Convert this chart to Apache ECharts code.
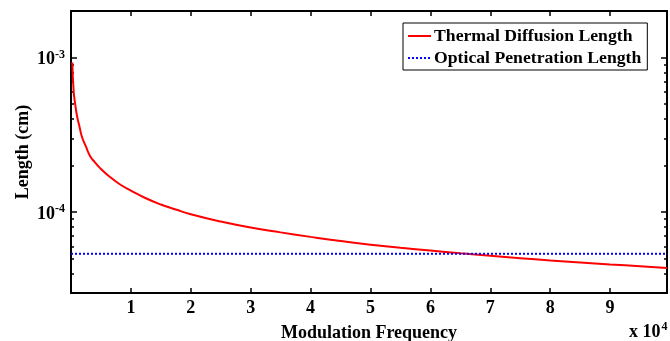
<!DOCTYPE html>
<html>
<head>
<meta charset="utf-8">
<script src="https://cdn.jsdelivr.net/npm/echarts@6/dist/echarts.min.js"></script>
<style>
  html, body { margin: 0; padding: 0; background: #fff; }
  #chart { width: 670px; height: 341px; }
</style>
</head>
<body>
<div id="chart"></div>
<script>
// modulation frequency (Hz)
const freq = [220, 450, 700, 1000, 1400, 1850, 2500, 3200, 4000, 4900, 6500, 8200, 10000,
  12500, 15000, 17500, 20000, 25000, 30000, 35000, 40000, 45000, 50000, 55000, 60000,
  65000, 70000, 75000, 80000, 85000, 90000, 95000, 99500];
// thermal diffusion length (cm)
const thermal = [9.3e-4, 6.0e-4, 5.0e-4, 4.2e-4, 3.6e-4, 3.05e-4, 2.65e-4, 2.3e-4, 2.1e-4, 1.92e-4,
  1.69e-4, 1.51e-4, 1.38e-4, 1.23e-4, 1.12e-4, 1.04e-4, 9.7e-5, 8.7e-5, 7.95e-5, 7.4e-5,
  6.92e-5, 6.5e-5, 6.15e-5, 5.88e-5, 5.64e-5, 5.42e-5, 5.22e-5, 5.04e-5, 4.87e-5, 4.73e-5,
  4.59e-5, 4.47e-5, 4.36e-5];
// optical penetration length (cm), constant
const opticalFreq = [0, 99500];
const optical = [5.38e-5, 5.38e-5];

const xTicks = [10000, 20000, 30000, 40000, 50000, 60000, 70000, 80000, 90000];
const yMajor = [1e-4, 1e-3];
const yMinor = [3e-5, 4e-5, 5e-5, 6e-5, 7e-5, 8e-5, 9e-5, 2e-4, 3e-4, 4e-4, 5e-4, 6e-4, 7e-4, 8e-4, 9e-4, 2e-3];

const FONT = '"Liberation Serif", "Times New Roman", serif';
const black = '#000';

const chart = echarts.init(document.getElementById('chart'));

const supLabel = (v) => {
  const e = Math.round(Math.log10(v));
  return '{b|10}{s|' + e + '}';
};

const yBase = (pos, opts) => Object.assign({
  type: 'log',
  logBase: 10,
  min: 3e-5,
  max: 2e-3,
  position: pos,
  axisLine: { show: false },
  splitLine: { show: false },
  axisLabel: { show: false },
  axisTick: { show: false },
}, opts);

const option = {
  backgroundColor: '#fff',
  animation: false,
  grid: { left: 71, right: 3, top: 11, bottom: 48, outerBoundsMode: 'none', containLabel: false },
  legend: {
    data: ['Thermal Diffusion Length', 'Optical Penetration Length'],
    orient: 'vertical',
    left: 403,
    top: 23,
    padding: [4, 6, 3, 4],
    itemWidth: 23,
    itemHeight: 10,
    itemGap: 4,
    itemStyle: { opacity: 0 },
    backgroundColor: '#fff',
    borderColor: black,
    borderWidth: 1,
    textStyle: { fontFamily: FONT, fontWeight: 'bold', fontSize: 17.7, color: black, lineHeight: 18, padding: [0, 0, 0, -2] },
  },
  xAxis: [
    {
      type: 'value',
      min: 0,
      max: 99500,
      interval: 10000,
      position: 'bottom',
      name: 'Modulation Frequency',
      nameLocation: 'middle',
      nameGap: 31,
      nameTextStyle: { fontFamily: FONT, fontWeight: 'bold', fontSize: 18, color: black },
      axisLine: { lineStyle: { color: black, width: 2 } },
      axisTick: { inside: true, length: 5, customValues: xTicks, lineStyle: { color: black, width: 1.5 } },
      axisLabel: {
        customValues: xTicks,
        margin: 6,
        fontFamily: FONT, fontWeight: 'bold', fontSize: 18, color: black,
        formatter: (v) => String(Math.round(v / 10000)),
      },
      splitLine: { show: false },
    },
    {
      type: 'value',
      min: 0,
      max: 99500,
      interval: 10000,
      position: 'top',
      axisLine: { lineStyle: { color: black, width: 2 } },
      axisTick: { inside: true, length: 5, customValues: xTicks, lineStyle: { color: black, width: 1.5 } },
      axisLabel: { show: false },
      splitLine: { show: false },
    },
  ],
  yAxis: [
    yBase('left', {
      name: 'Length (cm)',
      nameLocation: 'middle',
      nameGap: 39,
      nameMoveOverlap: false,
      nameTextStyle: { fontFamily: FONT, fontWeight: 'bold', fontSize: 18, color: black },
      axisLine: { show: true, lineStyle: { color: black, width: 2 } },
      axisTick: { show: true, inside: true, length: 6, customValues: yMajor, lineStyle: { color: black, width: 1.5 } },
      axisLabel: {
        show: true,
        customValues: yMajor,
        margin: 6,
        formatter: supLabel,
        rich: {
          b: { fontFamily: FONT, fontWeight: 'bold', fontSize: 18, color: black, lineHeight: 18, padding: [4, 0, 0, 0] },
          s: { fontFamily: FONT, fontWeight: 'bold', fontSize: 12, color: black, lineHeight: 12, verticalAlign: 'top' },
        },
      },
    }),
    yBase('left', {
      axisTick: { show: true, inside: true, length: 3, customValues: yMinor, lineStyle: { color: black, width: 1.5 } },
    }),
    yBase('right', {
      axisLine: { show: true, lineStyle: { color: black, width: 2 } },
      axisTick: { show: true, inside: true, length: 6, customValues: yMajor, lineStyle: { color: black, width: 1.5 } },
    }),
    yBase('right', {
      axisTick: { show: true, inside: true, length: 3, customValues: yMinor, lineStyle: { color: black, width: 1.5 } },
    }),
  ],
  graphic: [
    {
      type: 'text',
      left: 629,
      top: 319,
      style: {
        text: '{b|x 10}{s|4}',
        rich: {
          b: { fontFamily: FONT, fontWeight: 'bold', fontSize: 18, fill: black, lineHeight: 18, padding: [4, 0, 0, 0] },
          s: { fontFamily: FONT, fontWeight: 'bold', fontSize: 12, fill: black, lineHeight: 12, verticalAlign: 'top', padding: [0, 0, 0, 1] },
        },
      },
    },
  ],
  series: [
    {
      name: 'Thermal Diffusion Length',
      type: 'line',
      smooth: true,
      symbol: 'none',
      lineStyle: { color: '#ff0000', width: 2 },
      itemStyle: { color: '#ff0000' },
      data: freq.map((f, i) => [f, thermal[i]]),
    },
    {
      name: 'Optical Penetration Length',
      type: 'line',
      symbol: 'none',
      lineStyle: { color: '#0000ff', width: 2, type: [2, 2] },
      itemStyle: { color: '#0000ff' },
      data: opticalFreq.map((f, i) => [f, optical[i]]),
    },
  ],
};

chart.setOption(option);
</script>
</body>
</html>
